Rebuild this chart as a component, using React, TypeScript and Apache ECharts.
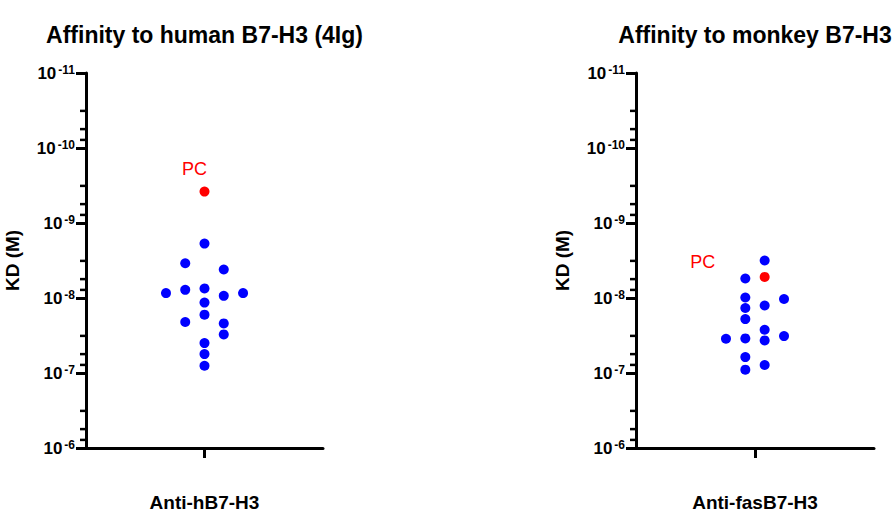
import React, { useEffect, useRef } from "react";
import * as echarts from "echarts";

// ---- Data ----
const titles = ["Affinity to human B7-H3 (4Ig)", "Affinity to monkey B7-H3"];
const categories = ["Anti-hB7-H3", "Anti-fasB7-H3"];
const yAxisName = "KD (M)";
const pcLabel = "PC";

// human panel: jitter column and KD (M)
const humanCols = [0, 0, 0, 0, 0, 0, 0, -1, -1, -1, 1, 1, 1, 1, -2, 2];
const humanKD = [
  1.88e-9, 7.46e-9, 1.15e-8, 1.67e-8, 3.99e-8, 5.6e-8, 8.0e-8,
  3.44e-9, 7.78e-9, 2.09e-8,
  4.17e-9, 9.36e-9, 2.18e-8, 3.06e-8,
  8.61e-9, 8.61e-9,
];
const humanPCCol = [0];
const humanPCKD = [3.81e-10];

// monkey panel
const monkeyCols = [-0.5, -0.5, -0.5, -0.5, -0.5, -0.5, -0.5, 0.5, 0.5, 0.5, 0.5, 0.5, -1.5, 1.5, 1.5];
const monkeyKD = [
  5.5e-9, 9.84e-9, 1.36e-8, 1.91e-8, 3.46e-8, 6.13e-8, 9.03e-8,
  3.16e-9, 1.26e-8, 2.65e-8, 3.68e-8, 7.83e-8,
  3.49e-8,
  1.03e-8, 3.22e-8,
];
const monkeyPCCol = [0.5];
const monkeyPCKD = [5.23e-9];

// axis
const yMin = 1e-11;
const yMax = 1e-6;
const minorMultipliers = [3.2, 5.6, 7.8];
const decades = [1e-11, 1e-10, 1e-9, 1e-8, 1e-7];

const FONT = "'Liberation Sans', Arial, Helvetica, sans-serif";
const BLUE = "#0000FF";
const RED = "#FF0000";

const zip = (xs: number[], ys: number[]) => xs.map((x, i) => [x, ys[i]]);

const minorTickData = () => {
  const out: number[][] = [];
  decades.forEach((d) => minorMultipliers.forEach((m) => out.push([0, d * m])));
  return out;
};

export default function App() {
  const ref = useRef<HTMLDivElement>(null);

  useEffect(() => {
    if (!ref.current) return;
    const chart = echarts.init(ref.current, undefined, { renderer: "svg" });

    const grids = [
      { left: 86, top: 73, width: 237, height: 375 },
      { left: 636, top: 73, width: 238, height: 375 },
    ];

    const catAxis = (gi: number) => ({
      type: "category",
      gridIndex: gi,
      data: [categories[gi]],
      boundaryGap: true,
      axisLine: { show: true, onZero: false, lineStyle: { color: "#000", width: 3 } },
      axisTick: { show: true, alignWithLabel: true, length: 10, lineStyle: { color: "#000", width: 3 } },
      axisLabel: {
        show: true,
        margin: 45,
        color: "#000",
        fontFamily: FONT,
        fontWeight: "bold",
        fontSize: 19,
      },
      splitLine: { show: false },
    });

    const valAxis = (gi: number) => ({
      type: "value",
      gridIndex: gi,
      min: -6.15,
      max: 6.15,
      show: false,
    });

    const yAx = (gi: number) => ({
      type: "log",
      gridIndex: gi,
      logBase: 10,
      min: yMin,
      max: yMax,
      inverse: true,
      splitNumber: 5,
      name: yAxisName,
      nameLocation: "middle",
      nameRotate: 90,
      nameGap: 64,
      nameTextStyle: { color: "#000", fontFamily: FONT, fontWeight: "bold", fontSize: 19 },
      axisLine: { show: true, onZero: false, lineStyle: { color: "#000", width: 3 } },
      axisTick: { show: true, length: 10, lineStyle: { color: "#000", width: 3 } },
      minorTick: { show: false },
      splitLine: { show: false },
      axisLabel: {
        margin: 11,
        color: "#000",
        formatter: (v: number) => {
          const e = Math.round(Math.log10(v));
          return `{b|10}{s|${e}}`;
        },
        rich: {
          b: { fontFamily: FONT, fontWeight: "bold", fontSize: 17, color: "#000", lineHeight: 19, verticalAlign: "middle" },
          s: { fontFamily: FONT, fontWeight: "bold", fontSize: 12, color: "#000", lineHeight: 19, verticalAlign: "top", padding: [0, 0, 0, 2] },
        },
      },
    });

    const minorSeries = (gi: number) => ({
      type: "custom",
      xAxisIndex: gi * 2 + 1,
      yAxisIndex: gi,
      silent: true,
      clip: false,
      data: minorTickData(),
      renderItem: (params: any, api: any) => {
        const p = api.coord([api.value(0), api.value(1)]);
        const cs = params.coordSys;
        return {
          type: "line",
          shape: { x1: cs.x - 6, y1: p[1], x2: cs.x, y2: p[1] },
          style: { stroke: "#000", lineWidth: 2.5 },
        };
      },
    });

    const dots = (gi: number, data: number[][], color: string) => ({
      type: "scatter",
      xAxisIndex: gi * 2 + 1,
      yAxisIndex: gi,
      symbol: "circle",
      symbolSize: 10,
      itemStyle: { color, opacity: 1 },
      emphasis: { disabled: true },
      data,
    });

    const pcDots = (gi: number, data: number[][], offset: number[]) => ({
      ...dots(gi, data, RED),
      name: pcLabel,
      label: {
        show: true,
        formatter: pcLabel,
        position: "inside",
        offset,
        color: RED,
        opacity: 1,
        fontFamily: FONT,
        fontSize: 18,
      },
    });

    const titleText = (x: number, text: string) => ({
      type: "text",
      x,
      y: 35,
      style: {
        text,
        fontFamily: FONT,
        fontWeight: "bold",
        fontSize: 23,
        fill: "#000",
        align: "center",
        verticalAlign: "middle",
        textAlign: "center",
        textVerticalAlign: "middle",
      },
    });

    chart.setOption({
      animation: false,
      backgroundColor: "#fff",
      grid: grids,
      xAxis: [catAxis(0), valAxis(0), catAxis(1), valAxis(1)],
      yAxis: [yAx(0), yAx(1)],
      graphic: [titleText(204.5, titles[0]), titleText(755, titles[1])],
      series: [
        minorSeries(0),
        minorSeries(1),
        dots(0, zip(humanCols, humanKD), BLUE),
        pcDots(0, zip(humanPCCol, humanPCKD), [-10, -23]),
        dots(1, zip(monkeyCols, monkeyKD), BLUE),
        pcDots(1, zip(monkeyPCCol, monkeyPCKD), [-62, -15]),
      ],
    });

    return () => chart.dispose();
  }, []);

  return <div ref={ref} style={{ width: 894, height: 526, position: "absolute", left: 0, top: 0 }} />;
}
